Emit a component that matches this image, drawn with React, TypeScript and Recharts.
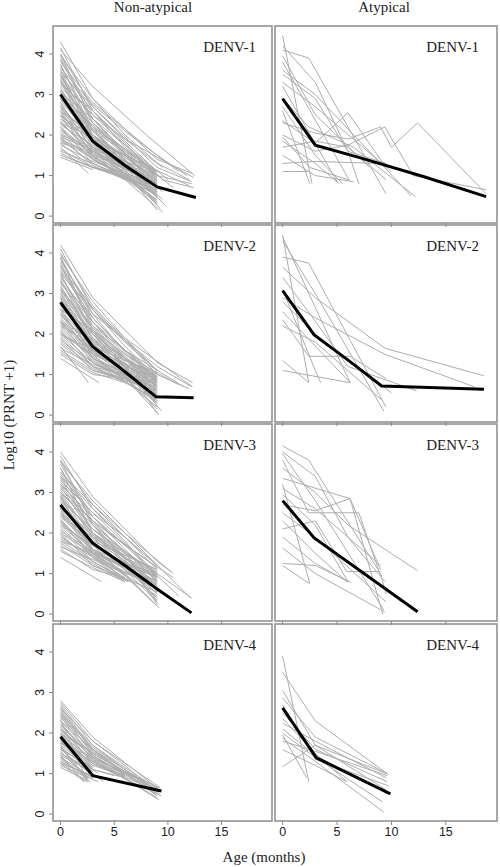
import { LineChart, Line, XAxis, YAxis, ReferenceArea } from 'recharts';

// individual infants: flat [age, log10(PRNT+1), age, value, ...]
const naD1: number[][] = [
  [0, 4.3, 3, 2.9, 9, 1.4, 12.3, 1.05],
  [0, 4.1, 3, 3.2, 8, 2.0, 12.5, 1.0],
  [0, 4.0, 3, 2.7, 9, 1.2, 12.2, 0.85],
  [0, 3.9, 3, 2.5, 9.5, 0.9, 12.4, 0.7],
  [0, 3.8, 3, 2.8, 9, 1.5, 11.8, 1.0],
  [0, 3.7, 3, 2.3, 9, 0.8],
  [0, 3.6, 3, 2.6, 9, 1.1],
  [0, 3.5, 2.8, 2.2, 9, 0.6],
  [0, 3.5, 3, 2.4, 10, 0.9],
  [0, 3.4, 3, 2.0, 9, 0.5],
  [0, 3.3, 3, 2.5, 9, 1.3, 12, 0.9],
  [0, 3.3, 3, 2.1, 9.5, 0.4],
  [0, 3.2, 3, 2.3, 9, 1.0],
  [0, 3.1, 3, 1.9, 9, 0.7],
  [0, 3.0, 3, 2.2, 8.5, 1.2],
  [0, 3.0, 3, 1.7, 9, 0.3],
  [0, 2.9, 3, 2.0, 9, 0.9],
  [0, 2.9, 3, 1.8, 9.3, 0.2],
  [0, 2.8, 3, 2.1, 9, 1.1],
  [0, 2.8, 3, 1.6, 8.5, 0.8],
  [0, 2.7, 3, 1.9, 9, 0.6],
  [0, 2.6, 3, 2.0, 9, 1.0, 12.2, 0.8],
  [0, 2.6, 3, 1.5, 9, 0.4],
  [0, 2.5, 3, 1.8, 9, 0.8],
  [0, 2.5, 3, 1.4, 8, 0.8],
  [0, 2.4, 3, 1.7, 9, 0.7],
  [0, 2.4, 3, 1.9, 9, 1.1],
  [0, 2.3, 3, 1.6, 9, 0.5],
  [0, 2.2, 3, 1.5, 9, 0.9],
  [0, 2.2, 3, 1.3, 8.5, 0.6],
  [0, 2.1, 3, 1.6, 9, 0.8],
  [0, 2.0, 3, 1.4, 9, 0.5],
  [0, 2.0, 3, 1.7, 9, 1.0],
  [0, 1.9, 3, 1.3, 8.5, 0.7],
  [0, 1.9, 3, 1.5, 9, 0.35],
  [0, 1.8, 3, 1.2, 8, 0.8],
  [0, 1.8, 3, 1.6, 9, 0.9],
  [0, 1.7, 2.6, 1.05],
  [0, 1.6, 3, 1.3, 9, 0.6],
  [0, 1.5, 3, 1.2, 8, 0.75],
  [0, 1.45, 3, 1.15],
  [0, 1.55, 2.5, 1.25, 6, 1.0],
  [0, 3.6, 3, 2.0, 6, 1.3, 9.8, 0.25],
  [0, 4.0, 3, 2.3, 9, 0.75],
  [0, 2.7, 3, 1.5, 6, 0.9, 9.5, 0.1],
  [0, 4.15, 3, 2.6, 6, 1.8, 9, 1.0],
  [0, 3.95, 3, 2.9, 6, 2.0, 9.5, 1.2],
  [0, 3.75, 3, 2.1, 6, 1.4, 9, 0.55],
  [0, 3.55, 3, 2.7, 6, 1.9, 12.4, 0.95],
  [0, 3.45, 3, 2.2, 6, 1.5, 9, 0.85],
  [0, 3.35, 3, 1.8, 6, 1.1, 9, 0.15],
  [0, 3.25, 3, 2.6, 6, 1.7, 9, 1.05],
  [0, 3.15, 3, 2.0, 6, 1.4, 9.5, 0.6],
  [0, 3.05, 3, 2.4, 6, 1.6, 9, 0.95],
  [0, 2.95, 3, 1.85, 6, 1.2, 9, 0.45],
  [0, 2.85, 3, 2.25, 6, 1.55, 9, 1.0],
  [0, 2.75, 3, 1.65, 6, 1.05, 9, 0.35],
  [0, 2.65, 3, 1.95, 6, 1.35, 9, 0.75],
  [0, 2.55, 3, 1.55, 6, 1.0, 9, 0.55],
  [0, 2.45, 3, 2.0, 6, 1.45, 9, 0.95],
  [0, 2.35, 3, 1.45, 6, 0.9],
  [0, 2.25, 3, 1.75, 6, 1.2, 9, 0.7],
  [0, 2.15, 3, 1.4, 6, 1.0, 9, 0.4],
  [0, 2.05, 3, 1.55, 6, 1.15, 9, 0.85],
  [0, 1.95, 3, 1.25, 6, 0.9],
  [0, 1.85, 3, 1.45, 6, 1.1, 9, 0.65],
  [0, 1.75, 3, 1.35, 6, 1.05, 9, 0.8],
  [0, 1.65, 3, 1.2, 6, 0.95],
  [0, 3.85, 3, 2.4, 6, 1.55, 9, 0.65],
  [0, 3.65, 3, 2.75, 6, 2.1, 11, 1.1],
  [0, 3.1, 3, 2.15, 6, 1.65, 10.5, 0.7],
  [0, 2.6, 3, 1.85, 6, 1.5, 12, 0.75],
  [0, 2.3, 3, 1.95, 6, 1.35, 9, 1.1],
  [0, 1.95, 3, 1.65, 6, 1.3, 9, 0.95],
  [0, 3.5, 3, 1.9, 6, 1.15, 9, 0.3],
];

const naD2: number[][] = [
  [0, 4.2, 3, 2.9, 9, 1.3, 12.3, 0.8],
  [0, 4.0, 3, 2.7, 9, 1.0, 12, 0.65],
  [0, 3.9, 3, 2.4, 9, 0.8],
  [0, 3.8, 3, 2.6, 9, 1.1],
  [0, 3.7, 3, 2.2, 9, 0.6],
  [0, 3.6, 3, 2.5, 9, 1.2, 12.2, 0.7],
  [0, 3.5, 3, 2.0, 9, 0.3],
  [0, 3.4, 3, 2.3, 9, 0.9],
  [0, 3.3, 3, 2.1, 9, 0.7],
  [0, 3.2, 3, 1.9, 9, 0.5],
  [0, 3.1, 3, 2.2, 9, 1.0],
  [0, 3.0, 3, 1.8, 9.2, 0.0],
  [0, 3.0, 3, 2.0, 9, 0.8],
  [0, 2.9, 3, 1.7, 9, 0.4],
  [0, 2.8, 3, 1.9, 9, 0.9],
  [0, 2.8, 3, 1.6, 9, 0.6],
  [0, 2.7, 3, 1.8, 9, 0.75],
  [0, 2.6, 3, 1.5, 9, 0.2],
  [0, 2.6, 3, 1.7, 9, 1.0],
  [0, 2.5, 3, 1.6, 9, 0.55],
  [0, 2.5, 3, 1.4, 8.5, 0.7],
  [0, 2.4, 3, 1.5, 9, 0.8],
  [0, 2.3, 3, 1.3, 9, 0.35],
  [0, 2.3, 3, 1.6, 9, 0.95],
  [0, 2.2, 3, 1.4, 9, 0.65],
  [0, 2.1, 3, 1.2, 8.5, 0.8],
  [0, 2.0, 3, 1.3, 9, 0.5],
  [0, 2.0, 3, 1.5, 9, 0.9],
  [0, 1.9, 3, 1.1, 8, 0.8],
  [0, 1.8, 3, 1.2, 9, 0.4],
  [0, 1.7, 2.6, 0.8],
  [0, 1.6, 3, 1.1, 9, 0.6],
  [0, 1.5, 3, 1.0, 9, 0.8],
  [0, 1.4, 3.6, 0.8],
  [0, 3.9, 3, 2.1, 6, 1.2, 9.4, 0.1],
  [0, 3.3, 3, 2.4, 6, 1.6, 11.5, 0.7],
  [0, 2.9, 3, 1.4, 6, 0.9, 9, 0.3],
  [0, 2.2, 3, 1.75, 6, 1.2, 9, 0.85],
  [0, 3.5, 3, 2.6, 6, 1.8, 9, 1.1],
  [0, 2.7, 3, 2.0, 6, 1.4, 9, 0.95],
  [0, 4.1, 3, 2.6, 6, 1.7, 9, 0.9],
  [0, 3.95, 3, 2.8, 6, 1.9, 9, 1.1],
  [0, 3.75, 3, 2.3, 6, 1.4, 9, 0.5],
  [0, 3.55, 3, 2.4, 6, 1.6, 9, 0.85],
  [0, 3.45, 3, 2.1, 6, 1.3, 9, 0.45],
  [0, 3.35, 3, 1.85, 6, 1.1, 9, 0.25],
  [0, 3.25, 3, 2.3, 6, 1.5, 9, 0.95],
  [0, 3.15, 3, 2.0, 6, 1.25, 9, 0.6],
  [0, 3.05, 3, 2.15, 6, 1.45, 9, 0.8],
  [0, 2.95, 3, 1.75, 6, 1.05, 9, 0.35],
  [0, 2.85, 3, 2.05, 6, 1.35, 9, 0.85],
  [0, 2.75, 3, 1.6, 6, 0.95, 9, 0.15],
  [0, 2.65, 3, 1.85, 6, 1.25, 9, 0.7],
  [0, 2.55, 3, 1.55, 6, 1.0, 9, 0.5],
  [0, 2.45, 3, 1.75, 6, 1.2, 9, 0.9],
  [0, 2.35, 3, 1.4, 6, 0.95, 9, 0.45],
  [0, 2.25, 3, 1.55, 6, 1.1, 9, 0.75],
  [0, 2.15, 3, 1.35, 6, 0.9, 9, 0.6],
  [0, 2.05, 3, 1.45, 6, 1.0, 9, 0.85],
  [0, 1.95, 3, 1.2, 6, 0.85],
  [0, 1.85, 3, 1.3, 6, 0.95, 9, 0.7],
  [0, 1.75, 3, 1.15, 6, 0.85],
  [0, 1.65, 3, 1.25, 6, 1.0, 9, 0.75],
  [0, 1.55, 3, 1.05, 6, 0.8],
  [0, 3.85, 3, 2.5, 6, 1.55, 9, 0.65],
  [0, 3.65, 3, 2.65, 6, 1.9, 12.3, 0.7],
  [0, 3.1, 3, 1.9, 6, 1.2, 9, 0.05],
  [0, 2.6, 3, 2.1, 6, 1.5, 11, 0.75],
  [0, 2.3, 3, 1.85, 6, 1.35, 9, 1.05],
  [0, 2.0, 3, 1.6, 6, 1.2, 9, 0.95],
];

const naD3: number[][] = [
  [0, 4.0, 3, 2.9, 9, 1.3, 10.3, 1.05],
  [0, 3.8, 3, 2.7, 9, 1.1],
  [0, 3.7, 3, 2.4, 9, 0.8],
  [0, 3.5, 3, 2.6, 9, 1.2],
  [0, 3.4, 3, 2.2, 9, 0.6],
  [0, 3.3, 3, 2.5, 9, 1.0, 12.2, 0.4],
  [0, 3.2, 3, 2.1, 9, 0.7],
  [0, 3.1, 3, 2.3, 9, 1.15],
  [0, 3.0, 3, 1.9, 9, 0.4],
  [0, 3.0, 3, 2.2, 9, 0.9],
  [0, 2.9, 3, 2.0, 9, 0.75],
  [0, 2.8, 3, 1.8, 9, 0.5],
  [0, 2.8, 3, 2.1, 9, 1.0],
  [0, 2.7, 3, 1.7, 9, 0.2],
  [0, 2.7, 3, 1.9, 9, 0.85],
  [0, 2.6, 3, 1.6, 9, 0.6],
  [0, 2.5, 3, 1.8, 9, 1.1],
  [0, 2.5, 3, 1.5, 6.2, 0.8],
  [0, 2.4, 3, 1.7, 9, 0.7],
  [0, 2.3, 3, 1.4, 6, 0.8],
  [0, 2.3, 3, 1.6, 9, 0.95],
  [0, 2.2, 3, 1.5, 9, 0.45],
  [0, 2.1, 3, 1.3, 6.3, 0.8],
  [0, 2.0, 3, 1.5, 9, 0.8],
  [0, 2.0, 3, 1.2, 6, 0.85],
  [0, 1.9, 3, 1.4, 9, 0.65],
  [0, 1.8, 3, 1.3, 6.5, 0.8],
  [0, 1.8, 3, 1.5, 9, 1.0],
  [0, 1.7, 3, 1.2, 9, 0.55],
  [0, 1.6, 3, 1.1, 6, 0.9],
  [0, 1.4, 3.8, 0.8],
  [0, 3.6, 3, 2.0, 6, 1.3, 9, 0.3],
  [0, 3.2, 3, 2.4, 6, 1.7, 11, 0.45],
  [0, 2.9, 3, 1.6, 6, 1.0, 9.2, 0.15],
  [0, 2.6, 3, 2.0, 6, 1.5, 9, 1.05],
  [0, 3.4, 3, 2.5, 6, 1.9, 9, 1.2],
  [0, 2.2, 3, 1.7, 6, 1.25, 9, 0.9],
  [0, 3.9, 3, 2.6, 6, 1.8, 9, 0.9],
  [0, 3.75, 3, 2.8, 6, 2.0, 10.5, 1.0],
  [0, 3.6, 3, 2.3, 6, 1.5, 9, 0.55],
  [0, 3.45, 3, 2.4, 6, 1.7, 9, 0.95],
  [0, 3.35, 3, 2.0, 6, 1.3, 9, 0.35],
  [0, 3.25, 3, 2.25, 6, 1.55, 9, 0.8],
  [0, 3.15, 3, 1.95, 6, 1.25, 9, 0.5],
  [0, 3.05, 3, 2.1, 6, 1.5, 9, 1.0],
  [0, 2.95, 3, 1.75, 6, 1.1, 9, 0.3],
  [0, 2.85, 3, 2.0, 6, 1.4, 9, 0.9],
  [0, 2.75, 3, 1.6, 6, 1.0],
  [0, 2.65, 3, 1.85, 6, 1.3, 9, 0.7],
  [0, 2.55, 3, 1.55, 6, 0.95],
  [0, 2.45, 3, 1.75, 6, 1.25, 9, 0.8],
  [0, 2.35, 3, 1.45, 6, 0.85],
  [0, 2.25, 3, 1.6, 6, 1.15, 9, 0.6],
  [0, 2.15, 3, 1.4, 6, 0.9],
  [0, 2.05, 3, 1.55, 6, 1.15, 9, 0.95],
  [0, 1.95, 3, 1.3, 6, 0.85],
  [0, 1.85, 3, 1.45, 6, 1.05, 9, 0.75],
  [0, 1.75, 3, 1.25, 6, 0.8],
  [0, 1.65, 3, 1.35, 6, 1.0, 9, 0.85],
  [0, 1.55, 3, 1.15, 6, 0.8],
  [0, 3.8, 3, 2.2, 6, 1.35, 9, 0.25],
  [0, 3.5, 3, 2.7, 6, 2.0, 12.1, 0.4],
  [0, 3.0, 3, 2.3, 6, 1.7, 10.5, 0.9],
  [0, 2.6, 3, 1.95, 6, 1.45, 9, 1.1],
  [0, 2.4, 3, 1.9, 6, 1.4, 9, 1.0],
  [0, 2.9, 3, 1.5, 6, 0.95, 9, 0.2],
];

const naD4: number[][] = [
  [0, 2.8, 3, 1.9, 9.2, 0.6],
  [0, 2.7, 3, 1.7, 9, 0.5],
  [0, 2.6, 3, 1.8, 9.3, 0.65],
  [0, 2.5, 3, 1.6, 9, 0.45],
  [0, 2.45, 3, 1.5, 9.2, 0.55],
  [0, 2.4, 3, 1.4, 9, 0.4],
  [0, 2.3, 3, 1.6, 9, 0.6],
  [0, 2.25, 3, 1.35, 9.2, 0.35],
  [0, 2.2, 3, 1.45, 9, 0.5],
  [0, 2.1, 3, 1.3, 7, 0.9],
  [0, 2.05, 3, 1.5, 8, 0.75],
  [0, 2.0, 3, 1.2, 6, 0.95],
  [0, 1.95, 3, 1.35, 7, 0.95],
  [0, 1.9, 3, 1.1, 5, 0.95],
  [0, 1.85, 3, 1.25, 6, 0.9],
  [0, 1.8, 3, 1.0, 4, 0.8],
  [0, 1.75, 3, 1.15],
  [0, 1.7, 2.5, 0.8],
  [0, 1.65, 3, 1.05],
  [0, 1.6, 3, 0.95],
  [0, 1.55, 2.6, 0.85],
  [0, 1.5, 3, 1.1, 6, 0.9],
  [0, 1.45, 2.2, 0.8],
  [0, 1.4, 3, 0.9],
  [0, 1.35, 3, 0.85],
  [0, 1.3, 2.4, 0.8],
  [0, 1.25, 3, 0.95],
  [0, 1.2, 3.5, 0.8],
  [0, 1.15, 2.8, 0.8],
  [0, 2.35, 2.5, 0.8],
  [0, 2.15, 3, 1.25, 9.4, 0.45],
  [0, 1.75, 3, 1.3, 9, 0.55],
  [0, 2.55, 3, 1.45, 8, 0.7],
  [0, 1.6, 2, 1.3, 3.5, 1.0],
  [0, 2.75, 3, 1.8, 6, 1.2, 9.2, 0.5],
  [0, 2.65, 3, 1.6, 9, 0.45],
  [0, 2.5, 3, 1.7, 6, 1.15, 9.2, 0.6],
  [0, 2.4, 3, 1.55, 6, 1.0],
  [0, 2.3, 3, 1.45, 6, 0.95],
  [0, 2.2, 3, 1.35, 5, 1.0],
  [0, 2.1, 3, 1.4, 6, 1.0],
  [0, 2.0, 3, 1.3, 6, 0.9],
  [0, 1.95, 3, 1.15],
  [0, 1.9, 3, 1.25, 6, 0.95],
  [0, 1.85, 3, 1.05],
  [0, 1.8, 3, 1.2],
  [0, 1.7, 3, 1.1],
  [0, 1.65, 2.5, 0.9],
  [0, 1.6, 3, 1.15],
  [0, 1.5, 3, 1.0],
  [0, 1.45, 3, 1.05],
  [0, 1.4, 2.5, 0.85],
  [0, 1.3, 3, 0.9],
  [0, 1.25, 2.2, 0.8],
  [0, 2.6, 3, 1.55, 6, 1.05, 9.3, 0.55],
  [0, 2.45, 3, 1.65, 6, 1.1, 9, 0.5],
  [0, 2.0, 3, 1.5, 6, 1.05, 9.2, 0.65],
  [0, 1.75, 3, 1.4, 6, 1.0],
];

const atD1: number[][] = [
  [0, 4.45, 2.7, 0.8],
  [0, 4.1, 2.4, 3.9, 9.5, 0.55],
  [0, 4.2, 3, 3.3, 6, 1.6, 7, 0.8],
  [0, 3.8, 6.2, 0.85],
  [0, 3.6, 3, 3.0, 9.2, 1.25, 11.8, 0.5],
  [0, 3.5, 3, 2.9, 6, 1.6, 9.5, 1.3],
  [0, 3.2, 5, 0.85],
  [0, 3.3, 3, 2.7, 10, 1.1],
  [0, 2.9, 2.4, 2.2, 6.5, 1.7, 12.2, 0.48],
  [0, 2.6, 2.5, 0.8],
  [0, 2.35, 3, 1.8, 6, 2.55, 9.5, 1.2],
  [0, 2.3, 3, 2.05, 6, 1.9, 9, 2.2, 10, 1.7, 12.4, 2.3, 18.7, 0.55],
  [0, 2.0, 3, 1.6, 6, 1.75, 9.4, 2.2, 12, 1.0, 18.7, 0.65],
  [0, 1.85, 3, 1.3, 5.2, 0.8],
  [0, 1.7, 3, 1.85, 6, 1.7, 9.5, 0.9],
  [0, 1.5, 3, 1.0, 6.5, 0.85],
  [0, 1.3, 3, 1.35, 8.7, 1.3],
  [0, 1.1, 2.3, 1.1],
  [0, 2.7, 3, 1.5, 5.5, 0.8],
  [0, 3.95, 3, 2.5, 8, 1.2],
  [0, 1.95, 2.5, 1.2, 6, 0.9],
];

const atD2: number[][] = [
  [0, 4.45, 2.4, 0.8],
  [0, 4.4, 6.2, 0.8],
  [0, 4.3, 3, 3.0, 9.3, 0.1],
  [0, 3.9, 2.4, 3.75, 9.5, 0.2],
  [0, 3.65, 3, 2.9, 9.4, 1.65, 18.5, 0.97],
  [0, 3.4, 2.5, 2.5, 6, 1.2, 12.3, 0.6],
  [0, 2.9, 3, 2.4, 9.4, 1.5, 17.6, 0.7],
  [0, 2.8, 3, 2.0, 6, 1.35, 10, 0.55],
  [0, 2.55, 6.2, 0.8],
  [0, 2.35, 2.4, 1.45, 6.2, 1.45, 9.5, 0.9],
  [0, 1.35, 2.4, 0.8],
  [0, 1.1, 6.2, 0.8],
  [0, 3.1, 3, 1.1, 3.5, 0.8],
  [0, 2.2, 3, 1.8, 9.2, 0.35],
];

const atD3: number[][] = [
  [0, 4.15, 2.4, 3.8, 9, 1.0, 9.5, 0.5],
  [0, 3.95, 3, 2.8, 9.3, 0.1],
  [0, 3.8, 2.4, 2.5, 7, 2.5, 9, 0.95],
  [0, 3.6, 3, 3.0, 6, 2.2, 12.4, 1.07],
  [0, 3.35, 6.2, 2.85, 9.2, 0.0],
  [0, 3.2, 2.5, 0.75],
  [0, 2.95, 3, 2.2, 6, 0.8],
  [0, 2.7, 3, 2.55, 6.2, 2.85, 9, 1.1],
  [0, 2.5, 3, 1.9, 9.5, 0.3],
  [0, 2.3, 3, 1.5, 6, 0.78],
  [0, 2.1, 3, 2.3, 5.9, 1.05, 9, 1.05],
  [0, 1.63, 3, 1.0, 9.4, 0.05],
  [0, 1.25, 3, 1.2, 6.3, 0.78],
  [0, 1.2, 2.4, 0.76],
  [0, 1.9, 3, 1.25, 6, 0.8],
  [0, 4.0, 3, 3.4, 6, 1.9, 9.4, 0.8],
  [0, 3.1, 3, 2.6, 9, 1.2],
];

const atD4: number[][] = [
  [0, 3.9, 2.4, 0.8],
  [0, 3.5, 3, 2.3, 9.7, 0.98],
  [0, 3.05, 3, 1.7, 9.5, 0.6],
  [0, 2.87, 3, 1.9, 9.6, 1.0],
  [0, 2.5, 3, 1.6, 9.6, 0.8],
  [0, 2.36, 3, 1.5, 5.9, 0.8],
  [0, 2.24, 3, 1.8, 9.5, 0.9],
  [0, 2.0, 3, 1.4, 9.2, 0.3],
  [0, 1.87, 3, 1.3, 9.3, 0.05],
  [0, 1.8, 3, 1.55, 9.6, 0.95],
  [0, 1.59, 3, 1.2, 5.9, 0.8],
  [0, 1.17, 3, 1.7, 9.5, 1.0],
  [0, 2.7, 3, 1.35, 9.7, 0.7],
  [0, 1.95, 2.2, 0.9],
  [0, 2.1, 3, 1.45, 9, 0.6],
];

// group mean curves
const naMeanD1 = [0, 3.0, 3, 1.85, 6, 1.25, 9, 0.72, 12.6, 0.46];
const naMeanD2 = [0, 2.78, 3, 1.69, 6, 1.07, 8.9, 0.45, 12.4, 0.43];
const naMeanD3 = [0, 2.69, 3, 1.75, 6, 1.2, 9, 0.62, 12.2, 0.03];
const naMeanD4 = [0, 1.91, 3, 0.95, 9.4, 0.57];
const atMeanD1 = [0, 2.9, 3, 1.75, 7, 1.45, 13, 0.97, 18.7, 0.48];
const atMeanD2 = [0, 3.07, 2.9, 1.98, 6.2, 1.32, 9.1, 0.72, 18.5, 0.64];
const atMeanD3 = [0, 2.8, 2.9, 1.88, 12.4, 0.06];
const atMeanD4 = [0, 2.62, 3.1, 1.39, 9.9, 0.5];

const serotypes = ['DENV-1', 'DENV-2', 'DENV-3', 'DENV-4'];
const groups = ['Non-atypical', 'Atypical'];
const ageTicks = [0, 5, 10, 15];
const titreTicks = [0, 1, 2, 3, 4];

const panelLines = [
  [naD1, atD1],
  [naD2, atD2],
  [naD3, atD3],
  [naD4, atD4],
];
const panelMeans = [
  [naMeanD1, atMeanD1],
  [naMeanD2, atMeanD2],
  [naMeanD3, atMeanD3],
  [naMeanD4, atMeanD4],
];

const AGE_DOMAIN: [number, number] = [-0.7, 19.7];
const TITRE_DOMAIN: [number, number] = [-0.17, 4.69];

const COLS = [
  { left: 53, width: 219, titleX: 153, labelInset: 16 },
  { left: 275, width: 222, titleX: 384, labelInset: 18 },
];
const ROW_TOPS = [26, 225, 424, 624];
const BOX_H = 197;
const Y_AXIS_W = 30;

const SANS = '"Liberation Sans", Arial, sans-serif';
const SERIF = '"Liberation Serif", "Times New Roman", serif';

function toPoints(flat: number[]) {
  const pts: { age: number; titre: number }[] = [];
  for (let i = 0; i < flat.length; i += 2) pts.push({ age: flat[i], titre: flat[i + 1] });
  return pts;
}

function RotatedTick(props: any) {
  const { x, y, payload } = props;
  return (
    <text
      x={x}
      y={y}
      transform={`rotate(-90 ${x} ${y})`}
      textAnchor="middle"
      fontSize={12.5}
      fontFamily={SANS}
      fill="#222"
    >
      {payload.value}
    </text>
  );
}

function Panel({ row, col }: { row: number; col: number }) {
  const c = COLS[col];
  const bottom = row === 3;
  const xAxisH = bottom ? 24 : 5;
  const lines = panelLines[row][col];
  const mean = toPoints(panelMeans[row][col]);

  return (
    <div style={{ position: 'absolute', left: c.left - Y_AXIS_W, top: ROW_TOPS[row] - 2 }}>
      <LineChart
        width={c.width + Y_AXIS_W + 2}
        height={BOX_H + 2 + xAxisH}
        margin={{ top: 2, right: 2, left: 0, bottom: 0 }}
      >
        <XAxis
          type="number"
          dataKey="age"
          domain={AGE_DOMAIN}
          ticks={ageTicks}
          allowDataOverflow
          axisLine={false}
          tickSize={4}
          tickLine={{ stroke: '#888' }}
          height={xAxisH}
          tickFormatter={bottom ? undefined : () => ''}
          tick={{ fontSize: 12.5, fontFamily: SANS, fill: '#222' }}
        />
        <YAxis
          type="number"
          domain={TITRE_DOMAIN}
          ticks={titreTicks}
          allowDataOverflow
          axisLine={false}
          width={Y_AXIS_W}
          tickSize={4}
          tickMargin={5}
          tickLine={{ stroke: '#888' }}
          tick={col === 0 ? <RotatedTick /> : false}
        />
        <ReferenceArea
          x1={AGE_DOMAIN[0]}
          x2={AGE_DOMAIN[1]}
          y1={TITRE_DOMAIN[0]}
          y2={TITRE_DOMAIN[1]}
          fill="none"
          fillOpacity={0}
          stroke="#8c8c8c"
          strokeWidth={1.5}
          ifOverflow="visible"
        />
        {lines.map((flat, i) => (
          <Line
            key={i}
            data={toPoints(flat)}
            dataKey="titre"
            type="linear"
            stroke="#adadad"
            strokeWidth={1}
            dot={false}
            activeDot={false}
            isAnimationActive={false}
          />
        ))}
        <Line
          data={mean}
          dataKey="titre"
          type="linear"
          stroke="#000"
          strokeWidth={3}
          dot={false}
          activeDot={false}
          isAnimationActive={false}
        />
      </LineChart>
    </div>
  );
}

export default function App() {
  return (
    <div style={{ position: 'absolute', left: 0, top: 0, width: 500, height: 867, background: '#fff' }}>
      {serotypes.map((_, row) =>
        groups.map((__, col) => <Panel key={`${row}-${col}`} row={row} col={col} />)
      )}
      <svg
        width={500}
        height={867}
        style={{ position: 'absolute', left: 0, top: 0, pointerEvents: 'none' }}
      >
        {groups.map((g, col) => (
          <text key={g} x={COLS[col].titleX} y={12} textAnchor="middle" fontSize={15} fontFamily={SERIF} fill="#222">
            {g}
          </text>
        ))}
        {serotypes.map((s, row) =>
          COLS.map((c, col) => (
            <text
              key={`${s}-${col}`}
              x={c.left + c.width - c.labelInset}
              y={ROW_TOPS[row] + 26}
              textAnchor="end"
              fontSize={15}
              fontFamily={SERIF}
              fill="#222"
            >
              {s}
            </text>
          ))
        )}
        <text
          x={14}
          y={415}
          transform="rotate(-90 14 415)"
          textAnchor="middle"
          fontSize={15}
          fontFamily={SERIF}
          fill="#222"
        >
          Log10 (PRNT +1)
        </text>
        <text x={264} y={862} textAnchor="middle" fontSize={15} fontFamily={SERIF} fill="#222">
          Age (months)
        </text>
      </svg>
    </div>
  );
}
